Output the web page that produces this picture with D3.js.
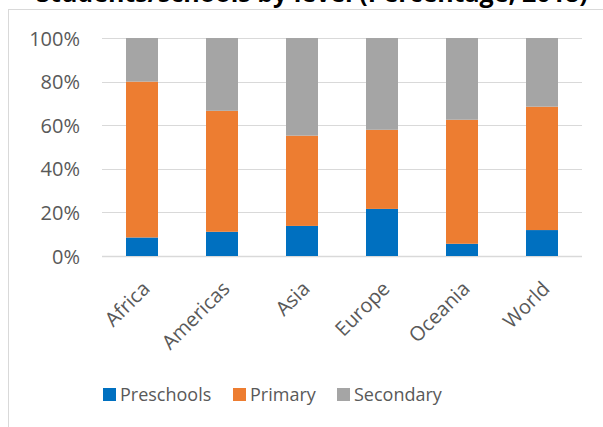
<!DOCTYPE html>
<html>
<head>
<meta charset="utf-8">
<script src="https://cdn.jsdelivr.net/npm/d3@7"></script>
<style>
  html, body { margin: 0; padding: 0; background: #fff; }
  svg { display: block; }
  text { font-family: "Open Sans", "Noto Sans", sans-serif; }
</style>
</head>
<body>
<div id="chart"></div>
<script>
// Share of each level by region (percent of the total for the region)
const regions = ["Africa", "Americas", "Asia", "Europe", "Oceania", "World"];
const seriesNames = ["Preschools", "Primary", "Secondary"];
const preschools = [8.5, 11.1, 13.8, 21.6, 5.6, 11.9];
const primary = [71.5, 55.5, 41.4, 36.3, 56.9, 56.6];
const secondary = [20.0, 33.4, 44.8, 42.1, 37.5, 31.5];
const yTicks = [0, 20, 40, 60, 80, 100];
const colors = ["#0070C0", "#ED7D31", "#A5A5A5"];
const titleText = "Students/schools by level (Percentage, 2018)";

const W = 603, H = 427;
const svg = d3.select("#chart").append("svg")
  .attr("width", W).attr("height", H);

// Chart frame
svg.append("rect")
  .attr("x", 8.5).attr("y", 9.5)
  .attr("width", W + 10).attr("height", H + 10)
  .attr("fill", "#fff").attr("stroke", "#d9d9d9").attr("stroke-width", 1);

// Title (runs off the top edge)
svg.append("text")
  .attr("x", 312).attr("y", 2)
  .attr("text-anchor", "middle")
  .attr("font-size", 25).attr("font-weight", 700)
  .attr("fill", "#000")
  .text(titleText);

const plot = { left: 102, right: 582, top: 38, bottom: 256 };

const x = d3.scaleBand().domain(regions)
  .range([plot.left, plot.right]).paddingInner(0.6).paddingOuter(0.3);
const y = d3.scaleLinear().domain([0, 100]).range([plot.bottom, plot.top]);

// Gridlines
svg.append("g").selectAll("line").data(yTicks).join("line")
  .attr("x1", plot.left).attr("x2", plot.right)
  .attr("y1", d => Math.round(y(d)) + 0.5).attr("y2", d => Math.round(y(d)) + 0.5)
  .attr("stroke", "#d9d9d9").attr("stroke-width", d => d === 0 ? 1.5 : 1);

// Y axis labels
const yAxis = d3.axisLeft(y).tickValues(yTicks).tickFormat(d => d + "%").tickSize(0).tickPadding(0);
const yg = svg.append("g").attr("transform", `translate(${plot.left - 22},0)`).call(yAxis);
yg.select(".domain").remove();
yg.selectAll("text").attr("font-size", 20).attr("fill", "#595959")
  .attr("font-family", "'Open Sans', sans-serif").attr("dy", "0.35em");

// Stacked bars
const rows = regions.map((r, i) => ({
  region: r, Preschools: preschools[i], Primary: primary[i], Secondary: secondary[i]
}));
const stack = d3.stack().keys(seriesNames)(rows);

svg.append("g").selectAll("g").data(stack).join("g")
  .attr("fill", (d, i) => colors[i])
  .selectAll("rect").data(d => d).join("rect")
  .attr("x", d => x(d.data.region))
  .attr("width", x.bandwidth())
  .attr("y", d => y(d[1]))
  .attr("height", d => y(d[0]) - y(d[1]));

// X axis labels, rotated
const xAxis = d3.axisBottom(x).tickSize(0).tickPadding(0);
const xg = svg.append("g").attr("transform", `translate(0,${plot.bottom})`).call(xAxis);
xg.select(".domain").remove();
xg.selectAll("text")
  .attr("font-size", 20).attr("fill", "#595959")
  .attr("font-family", "'Open Sans', sans-serif")
  .attr("text-anchor", "end")
  .attr("dy", null).attr("y", 0)
  .attr("transform", "translate(9,34) rotate(-45)");

// Legend
const legendItems = [
  { name: seriesNames[0], color: colors[0], x: 103 },
  { name: seriesNames[1], color: colors[1], x: 233 },
  { name: seriesNames[2], color: colors[2], x: 337 }
];
const lg = svg.append("g");
const li = lg.selectAll("g").data(legendItems).join("g")
  .attr("transform", d => `translate(${d.x},388)`);
li.append("rect").attr("width", 13).attr("height", 13).attr("fill", d => d.color);
li.append("text").attr("x", 17).attr("y", 6.5).attr("dy", "0.35em")
  .attr("font-size", 18).attr("fill", "#595959").text(d => d.name);
</script>
</body>
</html>
